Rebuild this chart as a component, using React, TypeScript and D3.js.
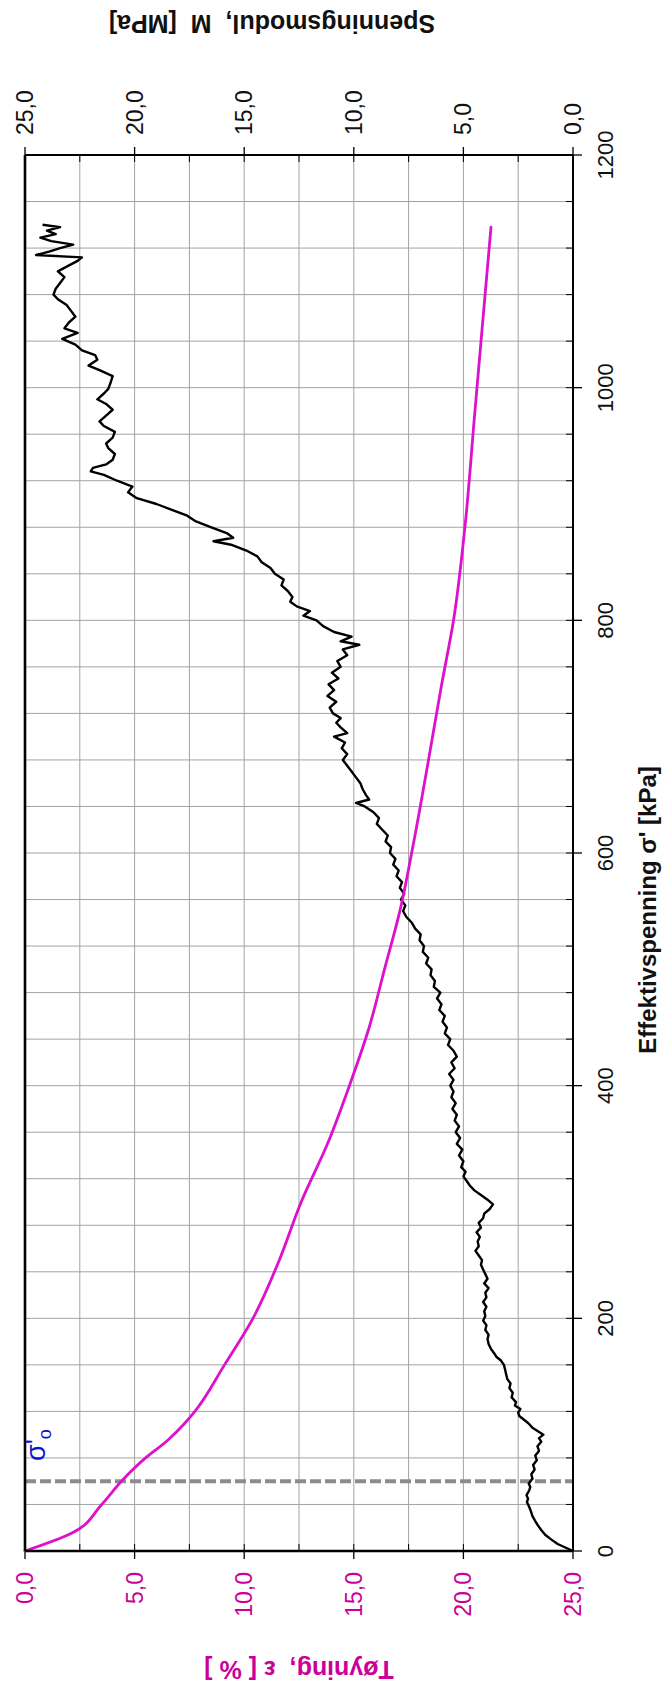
import React from "react";
import * as d3 from "d3";

// ---- axis ticks ----
const kpaTickValues = [0, 200, 400, 600, 800, 1000, 1200];
const kpaTickLabels = ["0", "200", "400", "600", "800", "1000", "1200"];
const strainTickValues = [0, 5, 10, 15, 20, 25];
const strainTickLabels = ["0,0", "5,0", "10,0", "15,0", "20,0", "25,0"];
const modulusTickValues = [0, 5, 10, 15, 20, 25];
const modulusTickLabels = ["0,0", "5,0", "10,0", "15,0", "20,0", "25,0"];
const preconsolidationKpa = 60;

// ---- strain curve (Tøyning ε %) vs effective stress (kPa) ----
const strainSigma = [0, 15, 40, 60, 80, 95, 110, 120, 160, 200, 250, 300, 350, 400, 450, 500, 550, 606, 679, 744, 800, 882, 974, 1078, 1138];
const strainPct = [0, 2.1, 3.5, 4.4, 5.5, 6.5, 7.3, 7.75, 9.1, 10.4, 11.6, 12.6, 13.8, 14.8, 15.7, 16.4, 17.1, 17.7, 18.4, 19.0, 19.55, 20.08, 20.5, 20.98, 21.26];

// ---- constrained modulus M (MPa) vs effective stress (kPa) ----
const modulusSigma = [
  0, 3, 6, 10, 14, 18, 22, 26, 30, 34, 38, 42, 45, 48, 52, 55, 58, 62, 66, 70, 74, 78, 82, 86, 90, 94, 97, 100,
  103, 106, 110, 113, 116, 119, 122, 125, 128, 132, 136, 140, 144, 148, 152, 156, 160, 164, 167, 170, 174, 178,
  182, 186, 190, 194, 198, 202, 206, 210, 214, 218, 222, 226, 230, 234, 238, 242, 246, 250, 254, 258, 262, 266,
  270, 274, 278, 282, 286, 290, 294, 298, 302, 306, 310, 314, 318, 322, 326, 330, 335, 340, 345, 350, 355, 360,
  365, 370, 375, 380, 385, 390, 395, 400, 405, 410, 415, 420, 425, 430, 435, 440, 445, 450, 455, 460, 465, 470,
  475, 480, 485, 490, 495, 500, 505, 510, 515, 520, 525, 530, 535, 540, 545, 550, 555, 560, 565, 570, 575, 580,
  585, 590, 595, 600, 605, 610, 615, 620, 625, 630, 635, 640, 643, 646, 650, 655, 660, 665, 670, 675, 680, 685,
  690, 695, 700, 703, 708, 712, 716, 720, 725, 730, 735, 740, 745, 750, 755, 760, 765, 770, 775, 779, 782, 786,
  790, 795, 800, 804, 808, 812, 816, 820, 825, 830, 835, 840, 845, 850, 855, 860, 865, 868, 871, 875, 880, 885,
  890, 895, 900, 905, 910, 915, 920, 925, 928, 931, 934, 938, 943, 948, 952, 957, 962, 967, 971, 976, 981, 986,
  990, 995, 999, 1004, 1010, 1015, 1019, 1024, 1028, 1032, 1037, 1042, 1047, 1051, 1056, 1061, 1066, 1071, 1076,
  1080, 1085, 1090, 1095, 1100, 1104, 1109, 1112, 1114, 1117, 1120, 1123, 1126, 1129, 1132, 1135, 1138, 1140,
];
const modulusMPa = [
  0, 0.35, 0.7, 1.0, 1.27, 1.45, 1.6, 1.73, 1.85, 1.92, 2.0, 2.1, 2.05, 2.12, 2.0, 1.95, 2.02, 1.85, 1.9, 1.75, 1.82, 1.65, 1.72, 1.55, 1.62, 1.45, 1.55, 1.35,
  1.6, 1.85, 2.05, 2.25, 2.45, 2.5, 2.4, 2.65, 2.6, 2.8, 2.75, 2.9, 2.85, 3.0, 3.05, 3.1, 3.15, 3.3, 3.5, 3.6, 3.75, 3.85,
  3.9, 3.85, 4.0, 3.95, 4.1, 4.0, 4.05, 3.95, 4.1, 3.95, 4.0, 3.85, 4.05, 3.9, 4.0, 4.1, 4.2, 4.15, 4.3, 4.45, 4.3, 4.35,
  4.25, 4.4, 4.2, 4.3, 4.1, 4.05, 3.8, 3.65, 3.9, 4.2, 4.5, 4.7, 4.85, 5.0, 4.9, 5.1, 5.0, 5.2, 5.05, 5.3, 5.15, 5.35,
  5.2, 5.4, 5.3, 5.5, 5.35, 5.55, 5.45, 5.6, 5.45, 5.65, 5.4, 5.55, 5.3, 5.45, 5.7, 5.6, 5.85, 5.75, 5.95, 5.85, 6.1, 6.0,
  6.2, 6.05, 6.35, 6.3, 6.5, 6.45, 6.7, 6.6, 6.85, 6.8, 7.0, 6.95, 7.2, 7.35, 7.6, 7.75, 7.65, 7.85, 7.7, 7.9, 7.8, 8.05,
  7.95, 8.2, 8.1, 8.35, 8.3, 8.55, 8.45, 8.7, 8.95, 8.85, 9.1, 9.5, 9.9, 9.3, 9.45, 9.6, 9.7, 9.9, 10.1, 10.3, 10.5, 10.3,
  10.55, 10.4, 10.9, 10.3, 10.6, 10.8, 10.6, 10.95, 11.1, 10.8, 11.2, 10.9, 11.15, 10.7, 11.0, 10.6, 10.75, 10.3, 10.5, 9.75, 10.6, 10.1,
  10.9, 11.4, 11.7, 12.3, 12.0, 12.6, 12.9, 12.8, 13.0, 13.3, 13.2, 13.6, 13.8, 14.2, 14.4, 14.9, 15.6, 16.4, 15.5, 15.8, 16.5, 17.2,
  17.6, 18.3, 19.0, 19.9, 20.3, 20.1, 20.8, 21.4, 22.0, 21.9, 21.3, 21.0, 20.9, 21.2, 21.3, 21.0, 20.9, 21.4, 21.6, 21.3, 21.0, 21.3,
  21.7, 21.4, 21.2, 21.1, 21.0, 21.6, 22.1, 21.7, 21.8, 22.4, 22.7, 23.3, 22.6, 23.2, 23.0, 22.7, 22.9, 23.1, 23.5,
  23.7, 23.6, 23.4, 23.2, 23.5, 23.1, 22.6, 22.4, 24.5, 23.9, 23.4, 22.8, 23.8, 24.3, 23.6, 24.0, 23.4, 24.2,
];

const W = 667;
const H = 1695;
const L = 25, R = 573, T = 155, B = 1551;
const FONT = "'Liberation Sans', Arial, Helvetica, sans-serif";
const PINK = "#cc0099";
const MAGENTA = "#dd10cc";

export default function App() {
  const yK = d3.scaleLinear().domain([0, 1200]).range([B, T]);
  const xE = d3.scaleLinear().domain([0, 25]).range([L, R]);
  const xM = d3.scaleLinear().domain([0, 25]).range([R, L]);

  const strainPts: [number, number][] = strainSigma.map((s, i) => [s, strainPct[i]]);
  const modPts: [number, number][] = modulusSigma.map((s, i) => [s, modulusMPa[i]]);

  const strainLine = d3
    .line<[number, number]>()
    .x((d) => xE(d[1]))
    .y((d) => yK(d[0]))
    .curve(d3.curveMonotoneY);
  const modLine = d3
    .line<[number, number]>()
    .x((d) => xM(d[1]))
    .y((d) => yK(d[0]));

  const hGrid = d3.range(0, 1201, 40);
  const vGrid = d3.range(0, 25.001, 2.5);

  return (
    <svg
      width={W}
      height={H}
      style={{ position: "absolute", left: 0, top: 0, display: "block", background: "#fff" }}
      fontFamily={FONT}
    >
      <rect x={0} y={0} width={W} height={H} fill="#fff" />
      {/* grid */}
      {hGrid.map((v) => (
        <line key={"h" + v} x1={L} x2={R} y1={yK(v)} y2={yK(v)} stroke="#a3a3a3" strokeWidth={1} />
      ))}
      {vGrid.map((v) => (
        <line key={"v" + v} x1={xE(v)} x2={xE(v)} y1={T} y2={B} stroke="#a3a3a3" strokeWidth={1} />
      ))}

      {/* minor ticks */}
      {hGrid.map((v) => (
        <line key={"ht" + v} x1={R - 7} x2={R} y1={yK(v)} y2={yK(v)} stroke="#000" strokeWidth={1} />
      ))}
      {vGrid.map((v) => (
        <g key={"vt" + v}>
          <line x1={xE(v)} x2={xE(v)} y1={B - 7} y2={B} stroke="#000" strokeWidth={1} />
          <line x1={xE(v)} x2={xE(v)} y1={T} y2={T + 7} stroke="#000" strokeWidth={1} />
        </g>
      ))}
      {/* major ticks */}
      {kpaTickValues.map((v) => (
        <line key={"kt" + v} x1={R} x2={R + 9} y1={yK(v)} y2={yK(v)} stroke="#000" strokeWidth={1.3} />
      ))}
      {strainTickValues.map((v) => (
        <line key={"st" + v} x1={xE(v)} x2={xE(v)} y1={B} y2={B + 8} stroke="#000" strokeWidth={1.3} />
      ))}
      {modulusTickValues.map((v) => (
        <line key={"mt" + v} x1={xM(v)} x2={xM(v)} y1={T - 8} y2={T} stroke="#000" strokeWidth={1.3} />
      ))}

      {/* preconsolidation dashed line */}
      <line
        x1={L}
        x2={R}
        y1={yK(preconsolidationKpa)}
        y2={yK(preconsolidationKpa)}
        stroke="#8c8c8c"
        strokeWidth={4}
        strokeDasharray="11,4"
      />

      {/* series */}
      <path d={modLine(modPts) || ""} fill="none" stroke="#000" strokeWidth={2.4} strokeLinejoin="round" />
      <path d={strainLine(strainPts) || ""} fill="none" stroke={MAGENTA} strokeWidth={2.8} strokeLinecap="round" />

      {/* frame */}
      <line x1={L} x2={R} y1={T} y2={T} stroke="#000" strokeWidth={1.8} />
      <line x1={R} x2={R} y1={T} y2={B} stroke="#000" strokeWidth={2} />
      <line x1={L} x2={L} y1={T} y2={B} stroke="#000" strokeWidth={2.6} />
      <line x1={L} x2={R} y1={B} y2={B} stroke="#000" strokeWidth={2.6} />

      {/* kPa tick labels */}
      {kpaTickValues.map((v, i) => (
        <text
          key={"kl" + v}
          transform={`translate(${613},${yK(v)}) rotate(-90)`}
          textAnchor="middle"
          fontSize={22}
          fill="#111"
        >
          {kpaTickLabels[i]}
        </text>
      ))}
      {/* strain tick labels (bottom) */}
      {strainTickValues.map((v, i) => (
        <text
          key={"sl" + v}
          transform={`translate(${xE(v) + 8},${B + 21}) rotate(-90)`}
          textAnchor="end"
          fontSize={23}
          fill={PINK}
        >
          {strainTickLabels[i]}
        </text>
      ))}
      {/* modulus tick labels (top) */}
      {modulusTickValues.map((v, i) => (
        <text
          key={"ml" + v}
          transform={`translate(${xM(v) + 8},${T - 20}) rotate(-90)`}
          textAnchor="start"
          fontSize={23}
          fill="#111"
        >
          {modulusTickLabels[i]}
        </text>
      ))}

      {/* axis titles */}
      <text
        transform={`translate(272,15) rotate(180)`}
        textAnchor="middle"
        fontSize={25}
        fontWeight="bold"
        fill="#111"
        style={{ whiteSpace: "pre" }}
      >
        {"Spenningsmodul,  M  [MPa]"}
      </text>
      <text
        transform={`translate(299,1661) rotate(180)`}
        textAnchor="middle"
        fontSize={25}
        fontWeight="bold"
        fill={PINK}
        style={{ whiteSpace: "pre" }}
      >
        {"Tøyning,  ε [ % ]"}
      </text>
      <text
        transform={`translate(656,910) rotate(-90)`}
        textAnchor="middle"
        fontSize={24}
        fontWeight="bold"
        fill="#111"
      >
        {"Effektivspenning σ' [kPa]"}
      </text>

      {/* σ'o label */}
      <text transform={`translate(45,1461) rotate(-90)`} textAnchor="start" fontSize={27} fill="#0a14d8">
        <tspan>σ'</tspan>
        <tspan dy={6} fontSize={18}>o</tspan>
      </text>
    </svg>
  );
}
